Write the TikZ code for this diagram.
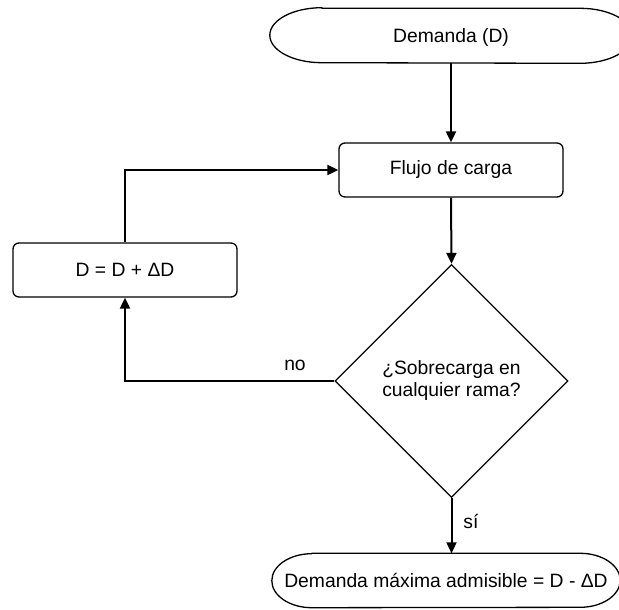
\documentclass[tikz,border=0pt]{standalone}
\usepackage{fontspec}
\setmainfont{Liberation Sans}
\usetikzlibrary{shapes.geometric,arrows.meta}

\tikzset{
  label text/.style={font=\fontsize{19.3}{23}\selectfont, inner sep=0pt},
  border/.style={line width=1.3pt, line join=round},
  stepbox/.style={draw, line width=1.3pt, rounded corners=6pt, minimum width=224pt,
                  minimum height=54pt, label text},
  termbox/.style={label text, minimum height=54pt},
  decision/.style={draw, diamond, line width=1.3pt, aspect=1, minimum width=233pt,
                   minimum height=233pt, inner sep=0pt, align=center, label text},
  flow/.style={line width=2pt, -{Triangle[length=11pt,width=10pt]}},
  edgelabel/.style={label text}
}

\begin{document}
\begin{tikzpicture}[x=1pt,y=-1pt]
  \useasboundingbox (0,0) rectangle (619,610);
  \clip (0,0) rectangle (619,610);

  % nodes
  \node[termbox, minimum width=362pt] (dem) at (451,38) {Demanda (D)};
  \node[stepbox] (flujo) at (451,170) {Flujo de carga};
  \node[stepbox] (inc) at (125,270) {D = D + ΔD};
  \node[decision] (dec) at (451.5,381) {\raisebox{-3pt}{\shortstack{¿Sobrecarga en\\[1pt]cualquier rama?}}};
  \node[termbox, minimum width=348pt] (fin) at (446,580.5) {Demanda máxima admisible = D - ΔD};

  % terminal outlines with elliptical ends
  \draw[border] ([xshift=52pt,yshift=2.5pt]dem.north west) -- ([xshift=-52pt,yshift=2.5pt]dem.north east)
    arc[start angle=90, end angle=-90, x radius=52pt, y radius=27.5pt]
    -- ([xshift=52pt,yshift=2.5pt]dem.south west)
    arc[start angle=270, end angle=90, x radius=52pt, y radius=27.5pt] -- cycle;
  \draw[border] ([xshift=40pt]fin.north west) -- ([xshift=-40pt]fin.north east)
    arc[start angle=90, end angle=-90, x radius=40pt, y radius=27pt]
    -- ([xshift=40pt]fin.south west)
    arc[start angle=270, end angle=90, x radius=40pt, y radius=27pt] -- cycle;

  % connectors
  \draw[flow] ([yshift=2.5pt]dem.south) -- (flujo.north);
  \draw[flow] (flujo.south) -- (dec.north);
  \draw[flow] (dec.west) -- (inc.south |- dec.west) -- (inc.south);
  \draw[flow] (inc.north) |- (flujo.west);
  \draw[flow] (dec.south) -- (dec.south |- fin.north);

  % branch labels
  \node[edgelabel] (no) at (295,365) {no};
  \node[edgelabel] (si) at (471,521) {sí};
\end{tikzpicture}
\end{document}
